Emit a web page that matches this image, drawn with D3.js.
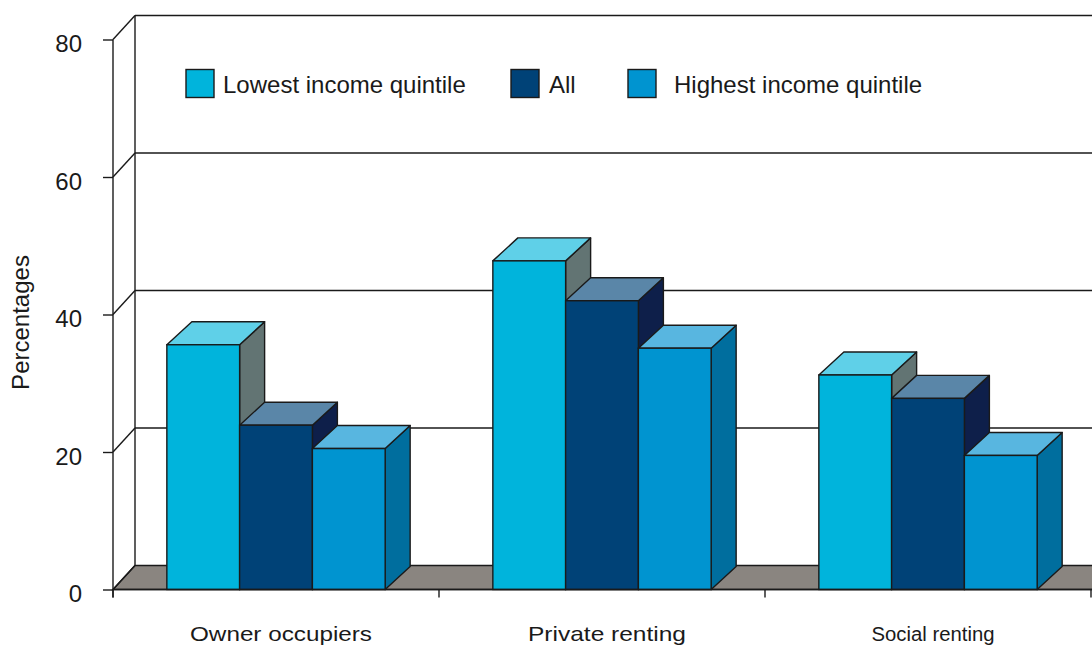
<!DOCTYPE html>
<html>
<head>
<meta charset="utf-8">
<script src="https://cdn.jsdelivr.net/npm/d3@7"></script>
<style>
  html, body { margin: 0; padding: 0; background: #fff; }
  svg { display: block; font-family: "Liberation Sans", Arial, sans-serif; }
</style>
</head>
<body>
<svg id="chart" width="1092" height="646"></svg>
<script>
// Housing tenure by income group (percentages)
const categories = ["Owner occupiers", "Private renting", "Social renting"];
const series = ["Lowest income quintile", "All", "Highest income quintile"];
const lowest  = [35.6, 47.8, 31.2];
const all     = [23.9, 42.0, 27.8];
const highest = [20.5, 35.1, 19.5];
const yTicks  = [0, 20, 40, 60, 80];

const values = [lowest, all, highest];

// face colours per series: front, top, side
const faceColors = [
  { front: "#00b4dc", top: "#5fd0e8", side: "#627473" },
  { front: "#004277", top: "#5a86a8", side: "#0e1f4a" },
  { front: "#0094d0", top: "#58b6e0", side: "#006e9e" }
];

const svg = d3.select("#chart");
const W = 1092;

const x0 = 113, x1 = 1091;
const y = d3.scaleLinear().domain([0, 80]).range([589.5, 39.5]);
const xCat = d3.scaleBand().domain(categories).range([x0, x1]);
const xSer = d3.scaleBand().domain(series).range([0, xCat.bandwidth()]).paddingOuter(0.74);

// oblique depth of the back wall and of the bars
const wallDx = 22, wallDy = -24;
const barDx = 25, barDy = -23;

const ink = "#1a1a1a";
const sw = 1.4;

// floor
const rightEdge = W + 40;
svg.append("path")
  .attr("d", `M${x0},${y(0)} L${x0 + wallDx},${y(0) + wallDy} L${rightEdge},${y(0) + wallDy} L${rightEdge},${y(0)} Z`)
  .attr("fill", "#8a8580")
  .attr("stroke", ink)
  .attr("stroke-width", sw);

// back wall gridlines and corner diagonals
const grid = svg.append("g");
yTicks.forEach(t => {
  const yy = y(t);
  if (t > 0) {
    grid.append("line")
      .attr("x1", x0 + wallDx).attr("x2", rightEdge)
      .attr("y1", yy + wallDy).attr("y2", yy + wallDy)
      .attr("stroke", ink).attr("stroke-width", sw);
  }
  grid.append("line")
    .attr("x1", x0).attr("y1", yy)
    .attr("x2", x0 + wallDx).attr("y2", yy + wallDy)
    .attr("stroke", ink).attr("stroke-width", sw);
});
// back wall left edge
grid.append("line")
  .attr("x1", x0 + wallDx).attr("x2", x0 + wallDx)
  .attr("y1", y(80) + wallDy).attr("y2", y(0) + wallDy)
  .attr("stroke", ink).attr("stroke-width", sw);

// bars, painted left to right so later fronts overlap earlier sides
const bars = svg.append("g");
categories.forEach((cat, ci) => {
  series.forEach((s, si) => {
    const v = values[si][ci];
    const bx = xCat(cat) + xSer(s);
    const bw = xSer.bandwidth();
    const by = y(v);
    const base = y(0);
    const c = faceColors[si];
    const g = bars.append("g");
    // side face
    g.append("path")
      .attr("d", `M${bx + bw},${by} L${bx + bw + barDx},${by + barDy} L${bx + bw + barDx},${base + barDy} L${bx + bw},${base} Z`)
      .attr("fill", c.side).attr("stroke", ink).attr("stroke-width", sw).attr("stroke-linejoin", "round");
    // top face
    g.append("path")
      .attr("d", `M${bx},${by} L${bx + barDx},${by + barDy} L${bx + bw + barDx},${by + barDy} L${bx + bw},${by} Z`)
      .attr("fill", c.top).attr("stroke", ink).attr("stroke-width", sw).attr("stroke-linejoin", "round");
    // front face
    g.append("rect")
      .attr("x", bx).attr("y", by)
      .attr("width", bw).attr("height", base - by)
      .attr("fill", c.front).attr("stroke", ink).attr("stroke-width", sw);
  });
});

// y axis
const yAxis = d3.axisLeft(y).tickValues(yTicks).tickSize(10).tickPadding(21);
const ya = svg.append("g").attr("transform", `translate(${x0},0)`).call(yAxis);
ya.select(".domain").attr("d", `M0,${y(80)}V${y(0) + 8}`).attr("stroke", ink).attr("stroke-width", sw);
ya.selectAll(".tick line").attr("stroke", ink).attr("stroke-width", sw);
ya.selectAll(".tick text")
  .attr("font-size", 24)
  .attr("dy", "0.52em")
  .attr("fill", "#1a1a1a")
  .attr("font-family", "Liberation Sans, Arial, sans-serif");

// category axis: ticks at band boundaries
const catBounds = categories.map(c => xCat(c)).concat([x1]);
svg.append("g").selectAll("line").data(catBounds).join("line")
  .attr("x1", d => d).attr("x2", d => d)
  .attr("y1", y(0)).attr("y2", y(0) + 8)
  .attr("stroke", ink).attr("stroke-width", sw);
svg.append("line")
  .attr("x1", x0).attr("x2", rightEdge)
  .attr("y1", y(0)).attr("y2", y(0))
  .attr("stroke", ink).attr("stroke-width", sw);

// category labels (the chart sets them slightly widened)
const catSizes = [20, 21, 19.5];
const catWidths = [182, 158, 123];
svg.append("g").selectAll("text").data(categories).join("text")
  .attr("x", d => xCat(d) + xCat.bandwidth() / 2 + 5)
  .attr("y", 641)
  .attr("text-anchor", "middle")
  .attr("font-size", (d, i) => catSizes[i])
  .attr("textLength", (d, i) => catWidths[i])
  .attr("lengthAdjust", "spacingAndGlyphs")
  .attr("fill", "#1a1a1a")
  .text(d => d);

// y axis title
svg.append("text")
  .attr("transform", `translate(29,${322.5}) rotate(-90)`)
  .attr("text-anchor", "middle")
  .attr("font-size", 24)
  .attr("fill", "#1a1a1a")
  .text("Percentages");

// legend
const legendX = [186, 511, 628];
const legendTextX = [223, 549, 674];
const legend = svg.append("g");
series.forEach((s, i) => {
  legend.append("rect")
    .attr("x", legendX[i]).attr("y", 69.5)
    .attr("width", 28).attr("height", 28)
    .attr("fill", faceColors[i].front)
    .attr("stroke", ink).attr("stroke-width", sw);
  legend.append("text")
    .attr("x", legendTextX[i]).attr("y", 93)
    .attr("font-size", 24)
    .attr("fill", "#1a1a1a")
    .text(s);
});
</script>
</body>
</html>
